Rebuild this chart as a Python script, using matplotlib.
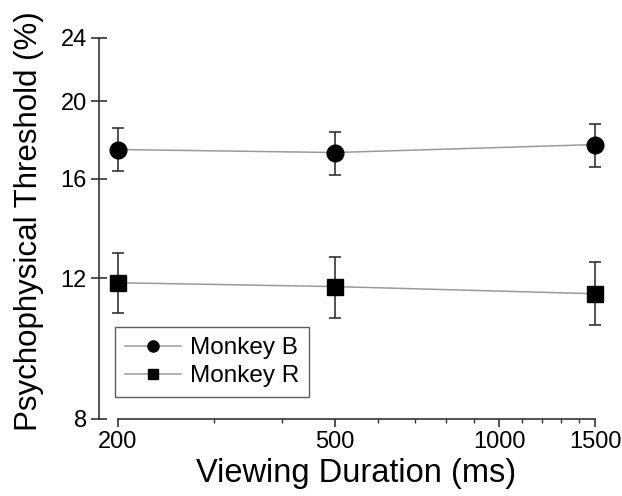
import numpy as np
import matplotlib
matplotlib.use('Agg')
import matplotlib.pyplot as plt
from matplotlib.lines import Line2D

plt.rcParams['font.family'] = ['Liberation Sans', 'DejaVu Sans']

duration = [200, 500, 1500]
monkey_b = [17.4, 17.25, 17.65]
monkey_b_lo = [16.35, 16.15, 16.55]
monkey_b_hi = [18.5, 18.3, 18.75]
monkey_r = [11.85, 11.72, 11.48]
monkey_r_lo = [10.85, 10.72, 10.48]
monkey_r_hi = [12.9, 12.78, 12.58]

yticks = [8, 12, 16, 20, 24]
xticks = [200, 500, 1000, 1500]
xminor = [300, 400, 600, 700, 800, 900, 1100, 1200, 1300, 1400]

fig = plt.figure(figsize=(6.22, 4.96), dpi=100)
ax = fig.add_axes([118/622, 1-419/496, (595-118)/622, (419-38)/496])

def draw(y, lo, hi, marker, ms):
    y = np.array(y)
    err = [y - np.array(lo), np.array(hi) - y]
    ax.errorbar(duration, y, yerr=err, fmt='none', ecolor='#333333',
                elinewidth=1.2, capsize=4, capthick=1.2, clip_on=False, zorder=2)
    ax.plot(duration, y, color='#9a9a9a', lw=1.1, marker=marker, ms=ms,
            mfc='black', mec='black', clip_on=False, zorder=3)

draw(monkey_b, monkey_b_lo, monkey_b_hi, 'o', 12)
draw(monkey_r, monkey_r_lo, monkey_r_hi, 's', 11)

ax.set_xscale('log')
ax.set_yscale('log')
ax.set_xlim(200, 1500)
ax.set_ylim(8, 24)
ax.set_yticks(yticks)
ax.set_yticklabels([str(t) for t in yticks])
ax.yaxis.set_minor_locator(matplotlib.ticker.NullLocator())
ax.set_xticks(xticks)
ax.set_xticklabels([str(t) for t in xticks])
ax.set_xticks(xminor, minor=True)
ax.xaxis.set_minor_formatter(matplotlib.ticker.NullFormatter())

for s in ['top', 'right']:
    ax.spines[s].set_visible(False)
for s in ['left', 'bottom']:
    ax.spines[s].set_linewidth(1.2)
    ax.spines[s].set_color('#333333')
ax.spines['left'].set_position(('outward', 14))

ax.tick_params(axis='y', which='major', direction='inout', length=11, width=1.2,
               labelsize=17, pad=3, color='#333333')
ax.tick_params(axis='x', which='major', direction='out', length=6, width=1.2,
               labelsize=17, pad=3, color='#333333')
ax.tick_params(axis='x', which='minor', direction='out', length=3, width=1.0,
               color='#333333')

ax.set_xlabel('Viewing Duration (ms)', fontsize=23.5, labelpad=3)
ax.set_ylabel('Psychophysical Threshold (%)', fontsize=22.5, labelpad=8)
ax.yaxis.set_label_coords(-0.155, 0.52)

handles = [
    Line2D([], [], color='#9a9a9a', lw=1.1, marker='o', ms=8, mfc='black', mec='black'),
    Line2D([], [], color='#9a9a9a', lw=1.1, marker='s', ms=7, mfc='black', mec='black'),
]
leg = ax.legend(handles, ['Monkey B', 'Monkey R'], loc='lower left',
                bbox_to_anchor=(115/622, 1-397/496), bbox_transform=fig.transFigure,
                fontsize=17.5, frameon=True, fancybox=False, handlelength=2.3,
                handletextpad=0.4, borderpad=0.4, labelspacing=0.25,
                borderaxespad=0)
leg.get_frame().set_edgecolor('#333333')
leg.get_frame().set_linewidth(1.0)

fig.savefig('out.png', dpi=100)
